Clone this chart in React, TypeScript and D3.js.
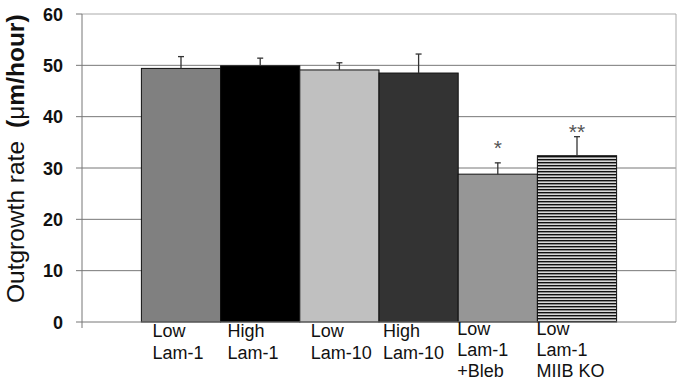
import React from 'react';
import * as d3 from 'd3';

// bar values (µm/hour), error bar tops, significance marks
const groups = ['g1', 'g2', 'g3', 'g4', 'g5', 'g6'];
const labels = [
    ['Low', 'Lam-1'],
    ['High', 'Lam-1'],
    ['Low', 'Lam-10'],
    ['High', 'Lam-10'],
    ['Low', 'Lam-1', '+Bleb'],
    ['Low', 'Lam-1', 'MIIB KO'],
];
const means = [49.4, 49.9, 49.1, 48.5, 28.8, 32.4];
const errors = [2.3, 1.5, 1.4, 3.7, 2.2, 3.7];
const marks = ['', '', '', '', '*', '**'];
const markAt = [0, 0, 0, 0, 34.9, 38.0];
const fills = ['#808080', '#000000', '#c0c0c0', '#333333', '#969696', 'url(#hstripes)'];
const yTicks = [0, 10, 20, 30, 40, 50, 60];

const W = 677;
const H = 381;
const left = 82;
const right = 676;
const top = 14;
const bottom = 322;

export default function App() {
    const x = d3.scaleBand<string>()
        .domain(groups)
        .range([left, right])
        .paddingInner(0)
        .paddingOuter(0.75);

    const y = d3.scaleLinear()
        .domain([0, 60])
        .range([bottom, top]);

    const bw = x.bandwidth();
    const labelShift = [11, 7, 11, 4, -1, -1];

    return (
        <svg width={W} height={H} style={{ position: 'absolute', left: 0, top: 0, background: '#fff' }}
            fontFamily="Arial, 'Liberation Sans', sans-serif">
            <defs>
                <pattern id="hstripes" width="4" height="3" patternUnits="userSpaceOnUse">
                    <rect width="4" height="3" fill="#d8d8d8" />
                    <rect width="4" height="1.4" fill="#111" />
                </pattern>
            </defs>

            {/* gridlines */}
            {yTicks.filter(t => t > 0).map(t => (
                <line key={t} x1={left} x2={right} y1={y(t)} y2={y(t)}
                    stroke={t === 60 ? '#aaaaaa' : '#777777'} strokeWidth={1} />
            ))}
            <line x1={right} x2={right} y1={top} y2={bottom} stroke="#aaaaaa" />

            {/* bars */}
            {groups.map((g, i) => (
                <rect key={g} x={x(g)} y={y(means[i])} width={bw} height={y(0) - y(means[i])}
                    fill={fills[i]} stroke="#111" strokeWidth={1} />
            ))}

            {/* error bars */}
            {groups.map((g, i) => {
                const cx = (x(g) ?? 0) + bw / 2;
                const yt = y(means[i] + errors[i]);
                return (
                    <g key={g} stroke="#333" strokeWidth={1.3}>
                        <line x1={cx} x2={cx} y1={y(means[i])} y2={yt} />
                        <line x1={cx - 3} x2={cx + 3} y1={yt} y2={yt} />
                    </g>
                );
            })}

            {/* significance */}
            {groups.map((g, i) => marks[i] ? (
                <text key={g} x={(x(g) ?? 0) + bw / 2} y={y(markAt[i]) + 12}
                    textAnchor="middle" fontSize={21} fill="#555">{marks[i]}</text>
            ) : null)}

            {/* axes */}
            <line x1={left} x2={left} y1={top} y2={bottom + 6} stroke="#777" />
            <line x1={left} x2={right} y1={bottom} y2={bottom} stroke="#777" />
            {yTicks.map(t => (
                <g key={t}>
                    <line x1={left - 6} x2={left} y1={y(t)} y2={y(t)} stroke="#777" />
                    <text x={63} y={y(t) + 6.5} textAnchor="end" fontSize={18} fontWeight="bold" fill="#111">{t}</text>
                </g>
            ))}

            {/* category labels */}
            {groups.map((g, i) => {
                const three = labels[i].length > 2;
                return (
                    <text key={g} fontSize={18} fill="#111">
                        {labels[i].map((s, j) => (
                            <tspan key={j} x={(x(g) ?? 0) + labelShift[i]}
                                y={three ? 335 + j * 21 : 337 + j * 22}>{s}</tspan>
                        ))}
                    </text>
                );
            })}

            {/* y title */}
            <text transform={`translate(24, 303) rotate(-90)`} fontSize={24.5} fill="#111">
                <tspan>Outgrowth rate</tspan>
                <tspan dx={13} fontWeight="bold">(</tspan>
                <tspan>μ</tspan>
                <tspan fontWeight="bold">m/hour)</tspan>
            </text>
        </svg>
    );
}
